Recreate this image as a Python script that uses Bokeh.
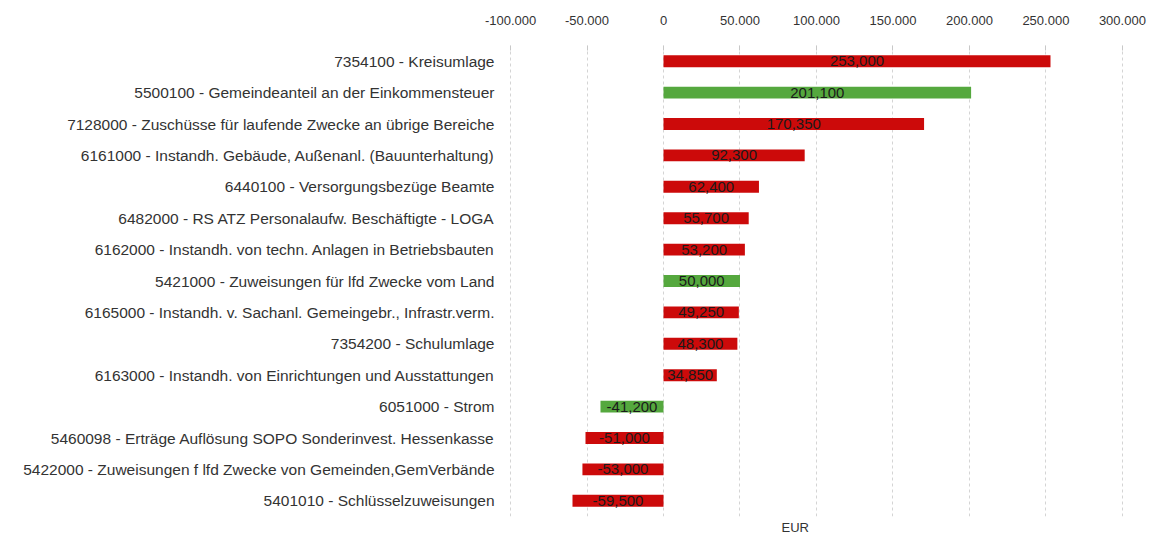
from bokeh.plotting import figure
from bokeh.models import ColumnDataSource, FixedTicker, Title, LinearAxis
from bokeh.embed import file_html
from bokeh.resources import INLINE
from bokeh.core.properties import value

categories = [
    "7354100 - Kreisumlage",
    "5500100 - Gemeindeanteil an der Einkommensteuer",
    "7128000 - Zuschüsse für laufende Zwecke an übrige Bereiche",
    "6161000 - Instandh. Gebäude, Außenanl. (Bauunterhaltung)",
    "6440100 - Versorgungsbezüge Beamte",
    "6482000 - RS ATZ Personalaufw. Beschäftigte - LOGA",
    "6162000 - Instandh. von techn. Anlagen in Betriebsbauten",
    "5421000 - Zuweisungen für lfd Zwecke vom Land",
    "6165000 - Instandh. v. Sachanl. Gemeingebr., Infrastr.verm.",
    "7354200 - Schulumlage",
    "6163000 - Instandh. von Einrichtungen und Ausstattungen",
    "6051000 - Strom",
    "5460098 - Erträge Auflösung SOPO Sonderinvest. Hessenkasse",
    "5422000 - Zuweisungen f lfd Zwecke von Gemeinden,GemVerbände",
    "5401010 - Schlüsselzuweisungen",
]
values = [253000, 201100, 170350, 92300, 62400, 55700, 53200, 50000,
          49250, 48300, 34850, -41200, -51000, -53000, -59500]
kinds = ["neg", "pos", "neg", "neg", "neg", "neg", "neg", "pos",
         "neg", "neg", "neg", "pos", "neg", "neg", "neg"]
tick_values = [-100000, -50000, 0, 50000, 100000, 150000, 200000, 250000, 300000]
tick_labels = ["-100.000", "-50.000", "0", "50.000", "100.000", "150.000",
               "200.000", "250.000", "300.000"]

color_map = {"neg": "#cc0a0a", "pos": "#55a83e"}
colors = [color_map[k] for k in kinds]
labels = [f"{v:,}" for v in values]
mids = [v / 2 for v in values]

src = ColumnDataSource(dict(cat=categories, val=values, col=colors, lab=labels, mid=mids))

p = figure(width=1154, height=538, output_backend="svg", toolbar_location=None,
           y_range=list(reversed(categories)), x_range=(-103300, 321000),
           x_axis_location=None)
p.min_border_left = 505
p.min_border_right = 0
p.min_border_top = 45
p.min_border_bottom = 22
p.outline_line_color = None
p.background_fill_color = "white"
p.border_fill_color = "white"

p.hbar(y="cat", left=0, right="val", height=0.38, fill_color="col", line_color=None, source=src)
p.text(x="mid", y="cat", text="lab", source=src, text_align="center", text_baseline="middle",
       text_font=value("Liberation Sans"), text_font_size="15px", text_color="#1a1a1a")

top = LinearAxis(ticker=FixedTicker(ticks=tick_values))
top.major_label_overrides = {t: l for t, l in zip(tick_values, tick_labels)}
top.axis_line_color = None
top.major_tick_in = 5
top.major_tick_out = 0
top.major_tick_line_color = "#c8c8c8"
top.minor_tick_line_color = None
top.major_label_standoff = 21
top.major_label_text_font = "Liberation Sans"
top.major_label_text_font_size = "13px"
top.major_label_text_color = "#333333"
p.add_layout(top, "above")

p.xgrid.ticker = FixedTicker(ticks=tick_values)
p.xgrid.grid_line_color = "#d4d4d4"
p.xgrid.grid_line_dash = "3 3"
p.ygrid.grid_line_color = None

p.yaxis.axis_line_color = None
p.yaxis.major_tick_line_color = None
p.yaxis.minor_tick_line_color = None
p.yaxis.major_label_standoff = 5
p.yaxis.major_label_text_font = "Liberation Sans"
p.yaxis.major_label_text_font_size = "15.5px"
p.yaxis.major_label_text_color = "#333333"

p.add_layout(Title(text="EUR", align="left", offset=276, standoff=2,
                   text_font="Liberation Sans", text_font_size="13px",
                   text_font_style="normal", text_color="#333333"), "below")

open("out.html", "w").write(file_html(p, INLINE))
